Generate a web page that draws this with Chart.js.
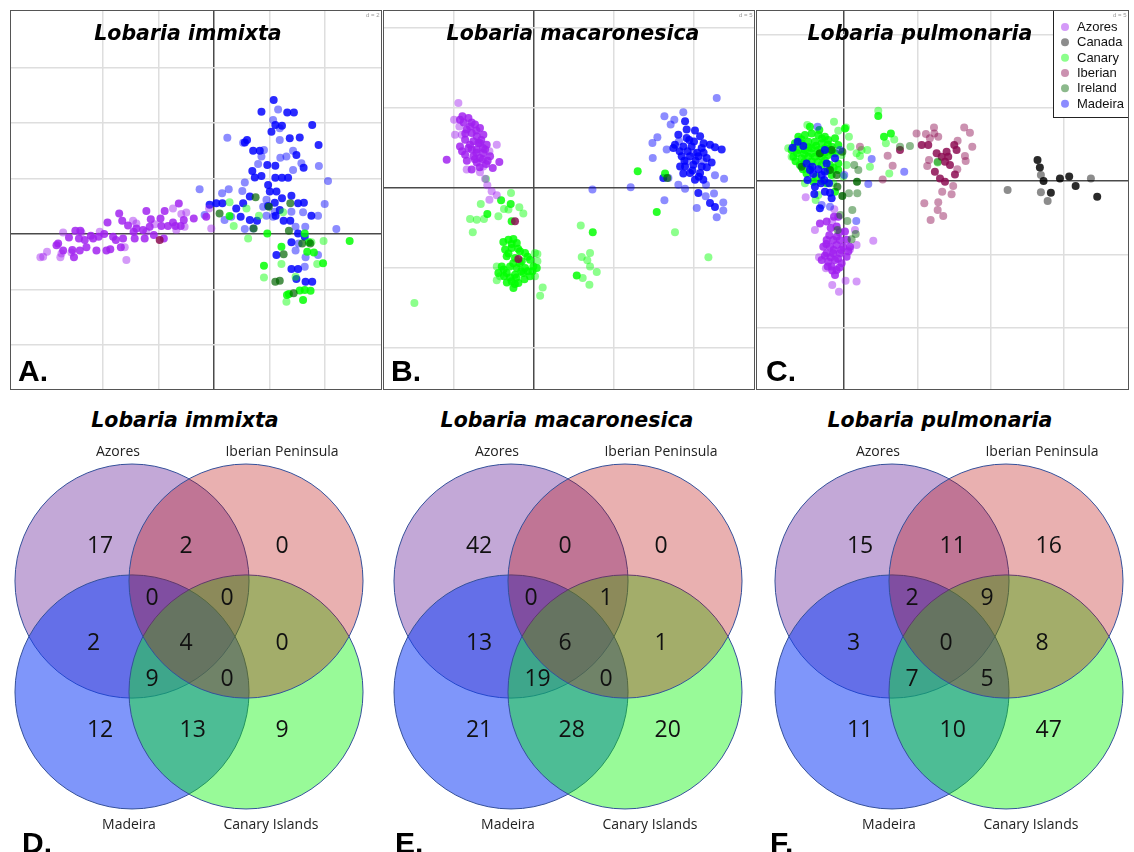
<!DOCTYPE html>
<html>
<head>
<meta charset="utf-8">
<script src="https://cdn.jsdelivr.net/npm/chart.js@4.4.1/dist/chart.umd.min.js"></script>
<style>
body{margin:0;background:#fff;width:1134px;height:852px;overflow:hidden;position:relative}
.frame{position:absolute;border:1px solid #555;box-sizing:border-box}
.frame canvas{display:block}
.title{position:absolute;font:bold italic 20.5px "DejaVu Sans";line-height:21px;white-space:nowrap;transform:translateX(-50%);color:#000;z-index:2}
.letter{position:absolute;font:bold 30px "Liberation Sans";line-height:30px;color:#000;z-index:2}
.dval{position:absolute;font:6px "Liberation Sans";color:#999;z-index:3}
.venn{position:absolute}
</style>
</head>
<body>

<div class="frame" style="left:10px;top:10px;width:372px;height:380px"><canvas id="pA" width="370" height="378"></canvas></div>
<div class="frame" style="left:383px;top:10px;width:372px;height:380px"><canvas id="pB" width="370" height="378"></canvas></div>
<div class="frame" style="left:756px;top:10px;width:373px;height:380px"><canvas id="pC" width="371" height="378"></canvas></div>

<div class="title" style="left:188px;top:23px">Lobaria immixta</div>
<div class="title" style="left:573px;top:23px">Lobaria macaronesica</div>
<div class="title" style="left:920px;top:23px">Lobaria pulmonaria</div>
<div class="dval" style="left:366px;top:12px">d = 2</div>
<div class="dval" style="left:739px;top:12px">d = 5</div>
<div class="dval" style="left:1113px;top:12px">d = 5</div>
<div class="letter" style="left:18px;top:356px">A.</div>
<div class="letter" style="left:391px;top:356px">B.</div>
<div class="letter" style="left:766px;top:356px">C.</div>

<canvas class="venn" id="vD" width="378" height="393" style="left:0;top:440px"></canvas>
<canvas class="venn" id="vE" width="378" height="393" style="left:379px;top:440px"></canvas>
<canvas class="venn" id="vF" width="378" height="393" style="left:760px;top:440px"></canvas>

<div class="title" style="left:185px;top:410px">Lobaria immixta</div>
<div class="title" style="left:567px;top:410px">Lobaria macaronesica</div>
<div class="title" style="left:940px;top:410px">Lobaria pulmonaria</div>
<div class="letter" style="left:22px;top:828px">D.</div>
<div class="letter" style="left:395px;top:828px">E.</div>
<div class="letter" style="left:770px;top:828px">F.</div>

<script>
// discriminant scores [axis1, axis2, stacked samples]
const immixtaAzores = [
 [-1.27,1.10,3],[-1.78,0.83,3],[-2.44,0.83,3],[-3.42,0.74,3],[-3.84,0.41,3],[-3.31,0.48,3],[-3.10,0.31,3],[-2.80,0.20,3],
 [-2.28,0.53,3],[-1.93,0.56,3],[-1.90,0.29,3],[-1.66,0.29,3],[-1.39,0.29,3],[-1.20,0.29,3],[-0.73,0.56,3],[-0.28,0.62,3],
 [-5.00,0.12,3],[-4.82,0.12,3],[-4.44,-0.06,3],[-4.16,-0.10,3],[-3.96,0,3],[-3.64,-0.10,3],[-3.28,-0.16,3],[-2.86,-0.16,3],
 [-2.50,-0.16,3],[-2.17,-0.04,3],[-1.81,-0.16,3],[-5.23,-0.13,3],[-5.62,-0.34,3],[-5.68,-0.41,3],[-5.44,-0.60,3],[-5.11,-0.58,3],
 [-4.84,-0.60,3],[-4.60,-0.48,3],[-4.24,-0.60,3],[-3.88,-0.60,3],[-3.74,-0.55,3],[-3.36,-0.48,3],[-5.05,-0.84,3],[-4.87,-0.16,3],
 [-4.66,-0.22,3],[-4.36,-0.16,3],[-3.54,-0.22,3],[-2.90,0.08,3],[-2.56,0.14,3],[-2.32,0.26,3],[-1.48,0.41,3],[-1.09,0.50,3],
 [-6.26,-0.84,1],[-6.02,-0.64,1],[-5.54,-0.84,1],[-5.50,-0.70,1],[-5.44,0.05,1],[-4.78,0.05,1],[-4.12,0.08,1],[-3.16,-0.94,1],
 [-3.22,-0.48,1],[-1.48,0.92,1],[-1.18,0.72,1],[-1.00,0.77,1],[-0.18,0.92,1],[-0.10,0.20,1],[-2.44,0.08,1],[-2.80,0.38,1],
 [-2.92,0.48,1],[-2.14,0.35,1],[-1.36,0.14,1],[-1.06,0.26,1],[-5.14,-0.67,1],[-6.16,-0.82,1]
];
const immixtaIberian = [[-1.96,-0.22,3]];
const immixtaMadeira = [
 [2.15,4.83,3],[1.71,4.41,3],[2.64,4.38,3],[2.88,4.38,3],[2.21,3.93,3],[2.45,3.90,3],[3.54,3.93,3],[2.07,3.69,3],
 [2.73,3.45,3],[3.09,3.48,3],[1.19,3.39,3],[1.11,3.30,3],[3.77,3.21,3],[1.41,3.00,3],[1.65,3.00,3],[2.97,2.85,3],
 [1.92,2.49,3],[2.21,2.46,3],[3.23,2.39,3],[1.38,2.27,3],[1.47,2.04,3],[1.71,2.09,3],[2.21,2.03,3],[2.45,2.03,3],
 [2.67,2.03,3],[1.95,1.77,3],[2.01,1.53,3],[2.25,1.53,3],[2.79,1.38,3],[2.45,1.29,3],[2.19,1.13,3],[1.95,1.01,3],
 [3.03,1.11,3],[3.24,1.13,3],[0.08,1.11,3],[-0.16,1.05,3],[0.30,1.11,3],[0.80,0.92,3],[0.96,0.62,3],[1.29,0.50,3],
 [1.55,0.48,3],[2.51,0.48,3],[2.75,0.48,3],[2.22,0.66,3],[3.51,0.66,3],[3.03,0.02,3],[2.79,-0.30,3],[2.25,-0.76,3],
 [2.79,-1.26,3],[3.03,-1.26,3],[2.97,-1.62,3],[3.30,-1.72,3],[3.54,-1.72,3],[3.27,-0.10,3],[2.37,0.86,3],[1.29,1.35,3],[1.05,1.11,3],
 [2.31,4.49,1],[2.13,4.11,1],[2.37,3.81,1],[0.48,3.47,1],[1.05,3.29,1],[1.80,3.03,1],[2.37,3.39,1],[2.39,2.75,1],
 [2.61,2.79,1],[2.85,3.00,1],[2.85,2.31,1],[3.15,2.55,1],[1.59,2.52,1],[1.71,2.79,1],[3.78,2.45,1],[4.11,1.91,1],
 [1.11,1.86,1],[-0.52,1.61,1],[0.29,1.47,1],[0.53,1.61,1],[1.02,1.55,1],[1.89,1.23,1],[3.99,1.08,1],[3.75,0.66,1],
 [3.21,0.78,1],[2.94,0.26,1],[3.29,0.26,1],[4.41,0.18,1],[1.11,0.18,1],[1.41,0.20,1],[0.38,0.50,1],[-0.34,0.68,1],
 [0.62,0.62,1],[1.89,0.66,1],[2.13,0.62,1],[2.79,0.80,1],[3.05,-0.34,1],[3.75,-0.76,1],[3.30,-0.84,1],[2.94,-0.60,1],
 [3.27,-1.18,1],[2.19,0.80,1],[1.77,0.98,1]
];
const immixtaCanary = [
 [0.56,0.65,3],[1.92,0.02,3],[3.27,0.02,3],[2.43,-0.46,3],[3.36,-0.64,3],[3.60,-0.67,3],[3.93,-1.06,3],[4.89,-0.25,3],
 [1.80,-1.15,3],[3.27,-2.02,3],[3.09,-2.04,3],[3.48,-2.05,3],[3.21,-2.38,3],[2.70,-2.16,3],[2.63,-2.20,3],[3.42,-0.30,3],
 [0.71,0.29,1],[1.23,-0.16,1],[1.62,0.66,1],[2.49,0.78,1],[2.43,-1.08,1],[3.72,-1.08,1],[3.95,-0.25,1],[1.80,-1.57,1],
 [2.61,-2.44,1],[2.94,-1.54,1],[3.51,-0.30,1],[0.56,1.14,1],[1.17,0.92,1]
];
const immixtaIreland = [
 [0.20,0.74,2],[1.50,1.32,2],[1.98,0.98,2],[2.75,1.11,2],[1.43,0.20,2],[2.70,0.12,2],[3.18,-0.34,2],[2.51,-0.73,2],
 [2.21,-1.72,2],[2.37,-1.69,2],[2.87,-2.14,2],[3.47,-0.34,2]
];

const macaronesicaAzores = [
 [-4.48,4.48,3],[-4.10,4.38,3],[-3.69,3.96,3],[-3.38,3.75,3],[-4.21,3.65,3],[-3.90,3.44,3],[-3.58,3.23,3],[-3.17,3.33,3],
 [-4.31,3.02,3],[-3.79,2.92,3],[-3.38,2.81,3],[-2.96,2.71,3],[-4.63,2.60,3],[-4.10,2.50,3],[-3.58,2.40,3],[-3.17,2.19,3],
 [-4.31,2.08,3],[-3.79,1.98,3],[-3.38,1.88,3],[-2.75,1.98,3],[-3.58,1.60,3],[-3.00,1.50,3],[-2.58,1.25,3],[-2.17,1.63,3],
 [-5.46,1.77,3],[-3.90,1.15,3],[-4.63,4.27,3],[-4.00,3.85,3],[-3.48,2.81,3],[-3.06,2.40,3],
 [-4.40,4.10,3],[-3.90,4.10,3],[-4.30,3.40,3],[-3.60,3.60,3],[-3.30,3.00,3],[-4.00,2.70,3],[-3.60,2.20,3],[-3.90,2.40,3],
 [-3.20,2.50,3],[-4.50,2.30,3],[-3.70,1.80,3],[-3.20,1.80,3],[-2.90,1.70,3],[-4.20,1.70,3],[-3.40,1.30,3],
 [-4.73,5.31,1],[-5.00,4.27,1],[-4.94,3.33,1],[-2.33,2.71,1],[-2.79,2.29,1],[-3.38,0.98,1],[-4.21,1.15,1],[-3.06,0.58,1],
 [-2.92,0.17,1],[-2.65,-0.21,1],[-2.33,-0.46,1],[-2.79,-0.73,1],[-4.67,3.85,1],[-3.17,1.35,1],[-4.52,3.33,1]
];
const macaronesicaCanary = [
 [-1.92,-3.38,3],[-1.60,-3.23,3],[-1.29,-3.19,3],[-1.08,-3.44,3],[-1.81,-3.85,3],[-1.40,-3.75,3],[-0.88,-3.96,3],[-0.56,-4.06,3],
 [-1.71,-4.27,3],[-1.19,-4.38,3],[-0.77,-4.58,3],[-0.25,-4.48,3],[-2.02,-4.90,3],[-1.50,-4.90,3],[-1.08,-5.00,3],[-0.56,-5.00,3],
 [-0.04,-4.90,3],[-2.23,-5.31,3],[-1.71,-5.31,3],[-1.19,-5.42,3],[-0.67,-5.31,3],[-0.25,-5.52,3],[-1.40,-5.83,3],[-0.98,-5.94,3],
 [-1.88,-5.52,3],[-1.29,-6.25,3],[0.17,-5.00,3],[-2.06,-0.77,3],[-1.46,-1.00,3],[-2.92,-1.63,3],[-1.40,-2.08,3],[3.67,-2.77,3],
 [7.67,-1.50,3],[6.48,1.04,3],[8.19,0.90,3],[2.67,-5.46,3],
 [-1.40,-3.50,3],[-1.00,-3.80,3],[-1.60,-4.10,3],[-0.40,-4.30,3],[-1.30,-4.70,3],[-0.90,-4.70,3],[-1.90,-5.10,3],[-0.80,-5.20,3],
 [-0.40,-5.20,3],[-1.50,-5.60,3],[-1.10,-5.60,3],[-0.60,-5.70,3],[-1.70,-5.90,3],[-1.20,-6.00,3],[-0.10,-5.20,3],
 [-1.44,-0.31,1],[-3.33,-1.00,1],[-4.00,-1.94,1],[-3.58,-1.98,1],[-3.13,-1.94,1],[-3.83,-2.77,1],[-2.23,-1.77,1],[-1.88,-1.31,1],
 [-0.92,-1.21,1],[-0.67,-1.60,1],[-1.60,-1.35,1],[0.21,-4.13,1],[0.21,-4.58,1],[0.54,-6.21,1],[0.38,-6.73,1],[-2.33,-5.77,1],
 [-7.48,-7.19,1],[2.92,-2.35,1],[3.50,-4.06,1],[2.98,-4.31,1],[3.33,-4.52,1],[3.50,-4.90,1],[3.92,-5.25,1],[3.04,-5.63,1],
 [3.46,-6.04,1],[8.81,-2.77,1],[10.90,-4.33,1],[-3.00,0.56,1],[0.06,-5.52,1],[-2.33,-4.90,1],[-2.13,-5.52,1],[0.06,-4.06,1]
];
const macaronesicaIberian = [[-1.19,-2.08,3],[-0.98,-4.44,3]];
const macaronesicaIreland = [[8.33,0.63,2]];
const macaronesicaMadeira = [
 [9.44,4.17,3],[10.06,3.60,3],[9.02,3.33,3],[9.54,3.13,3],[10.38,3.23,3],[8.81,2.71,3],[9.33,2.60,3],[9.85,2.60,3],
 [10.48,2.50,3],[11.00,2.71,3],[9.23,1.98,3],[9.75,1.98,3],[10.27,1.98,3],[10.79,1.88,3],[9.44,1.35,3],[9.96,1.46,3],
 [10.48,1.35,3],[11.10,1.60,3],[9.13,1.35,3],[9.75,0.94,3],[10.38,0.94,3],[9.33,0.90,3],[10.06,0.52,3],[10.58,0.52,3],
 [8.08,0.63,3],[10.27,-0.31,3],[11.00,-0.94,3],[11.31,-1.19,3],[11.73,2.40,3],[11.31,2.54,3],[8.71,2.50,3],[9.54,3.65,3],
 [9.60,2.30,3],[10.20,2.20,3],[10.60,2.20,3],[9.40,1.70,3],[10.10,1.70,3],[10.80,1.30,3],[9.90,1.10,3],[10.30,0.70,3],
 [9.70,3.00,3],[10.00,2.90,3],[10.60,2.80,3],[9.10,2.30,3],
 [11.42,5.63,1],[9.33,4.73,1],[8.15,4.48,1],[8.77,4.27,1],[8.54,3.96,1],[7.71,3.17,1],[7.40,2.81,1],[8.29,2.40,1],
 [7.42,1.88,1],[11.31,0.79,1],[11.88,0.58,1],[9.02,0.21,1],[9.44,-0.04,1],[10.75,0.21,1],[11.25,-0.35,1],[10.73,-0.52,1],
 [11.83,-0.90,1],[10.17,-1.25,1],[11.83,-1.40,1],[11.42,-1.83,1],[8.15,-0.77,1],[6.04,0.04,1],[3.65,-0.10,1],[8.40,0.63,1],
 [9.96,2.19,1],[10.58,1.67,1],[9.56,1.67,1],[9.06,2.92,1]
];

const pulmonariaAzores = [
 [-1.18,-2.77,3],[-0.50,-3.11,3],[0.07,-3.45,3],[-1.18,-4.02,3],[-0.73,-4.02,3],[-0.27,-4.02,3],[-1.41,-4.48,3],[-0.95,-4.48,3],
 [-0.50,-4.36,3],[-0.05,-4.48,3],[0.41,-4.48,3],[-1.18,-4.93,3],[-0.73,-4.93,3],[-0.27,-4.93,3],[0.18,-5.16,3],[-1.52,-5.39,3],
 [-1.07,-5.50,3],[-0.61,-5.39,3],[-0.16,-5.61,3],[-0.84,-5.84,3],[-0.50,-6.07,3],[-0.61,-6.41,3],[-1.11,-5.84,3],[-0.39,-2.43,3],
 [-0.68,-2.43,3],[-1.64,-2.89,3],
 [-0.90,-3.20,3],[-0.30,-3.50,3],[-1.00,-3.70,3],[-0.50,-3.80,3],[0.20,-4.00,3],[-1.20,-4.30,3],[-0.70,-4.70,3],[-0.20,-4.70,3],
 [0.30,-4.80,3],[-1.30,-5.10,3],[-0.90,-5.20,3],[-0.40,-5.30,3],[-0.80,-6.10,3],[-0.30,-5.90,3],
 [-2.61,-1.11,1],[-0.66,-1.93,1],[-0.80,-2.73,1],[0.86,-4.36,1],[2.00,-4.07,1],[-1.70,-5.20,1],[-1.23,-5.95,1],[-0.80,-7.09,1],
 [-0.34,-7.55,1],[0.11,-6.80,1],[0.86,-6.86,1],[0.41,-4.66,1],[-1.98,-3.34,1],[0.75,-3.34,1]
];
const pulmonariaCanada = [
 [13.20,1.43,3],[13.36,0.93,3],[13.61,0,3],[14.73,0.18,3],[15.36,0.30,3],[15.80,-0.34,3],[14.11,-0.80,3],[17.27,-1.07,3],
 [13.43,0.41,1],[13.43,-0.77,1],[13.89,-1.36,1],[16.84,0.18,1],[11.16,-0.61,1]
];
const pulmonariaCanary = [
 [-3.11,3.02,3],[-2.66,3.14,3],[-2.20,3.25,3],[-1.75,3.14,3],[-1.30,3.02,3],[-3.34,2.57,3],[-2.89,2.57,3],[-2.43,2.68,3],
 [-1.98,2.68,3],[-1.52,2.57,3],[-1.07,2.80,3],[-0.61,2.91,3],[-3.57,2.11,3],[-3.11,2.11,3],[-2.66,2.11,3],[-2.20,2.23,3],
 [-1.75,2.11,3],[-1.30,2.23,3],[-0.84,2.34,3],[-0.39,2.45,3],[-3.45,1.66,3],[-2.89,1.55,3],[-2.43,1.66,3],[-1.98,1.66,3],
 [-1.52,1.66,3],[-1.07,1.77,3],[-0.61,1.89,3],[-3.00,1.09,3],[-1.52,1.09,3],[-0.95,1.09,3],[-0.39,1.20,3],[-2.55,0.52,3],
 [-0.84,0.41,3],[-0.39,0.75,3],[-2.09,-0.05,3],[-1.18,-0.16,3],[-0.61,-0.73,3],[2.34,4.43,3],[2.73,3.02,3],[3.20,3.25,3],
 [-1.68,3.48,3],[0.07,3.59,3],[-2.32,3.70,3],
 [-2.90,2.85,3],[-2.40,2.30,3],[-1.90,2.40,3],[-1.50,2.90,3],[-1.10,2.50,3],[-3.20,1.90,3],[-2.70,1.85,3],[-2.20,1.90,3],
 [-1.70,1.85,3],[-1.30,1.95,3],[-0.80,2.00,3],[-3.30,1.35,3],[-2.70,1.30,3],[-2.20,1.35,3],[-1.80,1.30,3],[-1.30,1.40,3],
 [-2.80,0.80,3],[-2.30,0.90,3],[-1.10,0.70,3],[-0.70,0.90,3],[-1.90,0.30,3],[-1.50,0.00,3],
 [-2.50,3.82,1],[-0.68,4.05,1],[-0.39,3.43,1],[0.14,3.66,1],[0.34,3.02,1],[-3.80,2.23,1],[-3.57,1.66,1],[1.20,2.11,1],
 [1.59,2.11,1],[1.09,1.70,1],[1.77,0.98,1],[0.45,2.34,1],[0.86,1.89,1],[-0.16,1.77,1],[0.18,1.09,1],[-0.05,0.30,1],
 [-0.73,-0.16,1],[-2.66,-0.16,1],[-1.93,-1.30,1],[2.34,4.80,1],[2.86,2.57,1],[3.43,2.84,1],[3.09,0.52,1],[6.39,1.27,1],[-1.75,-0.95,1]
];
const pulmonariaIberian = [
 [3.82,2.11,3],[7.00,2.00,3],[6.66,1.66,3],[7.11,1.66,3],[6.32,1.89,3],[7.52,2.45,3],[6.89,1.32,3],[7.23,1.09,3],
 [7.57,0.45,3],[6.55,0.18,3],[6.89,-0.05,3],[6.20,0.64,3],[5.75,2.45,3],[5.30,2.45,3],[7.68,2.11,3],
 [4.95,3.25,1],[5.59,3.20,1],[6.14,3.66,1],[6.16,3.25,1],[6.43,3.02,1],[5.86,2.91,1],[7.75,2.75,1],[8.20,3.66,1],
 [8.59,3.30,1],[8.75,2.34,1],[8.25,1.70,1],[8.30,1.36,1],[7.73,0.80,1],[5.80,1.43,1],[5.68,1.02,1],[7.45,-0.34,1],
 [7.34,-0.91,1],[6.70,-0.73,1],[6.43,-1.45,1],[6.39,-1.98,1],[5.48,-1.52,1],[6.77,-2.39,1],[5.91,-2.66,1],[2.64,0.11,1],
 [3.32,1.05,1],[2.98,1.73,1],[1.09,2.34,1]
];
const pulmonariaIreland = [
 [-0.45,-0.39,2],[-0.11,-1.02,3],[0.89,-0.05,3],[0.70,1.09,1],[0.98,0.75,1],[0.34,-0.84,1],[0.91,-0.84,1],[0.57,-1.98,1],
 [-0.25,-2.32,1],[0.23,-2.73,1],[0.80,-3.61,1],[0.52,-3.98,1],[-0.95,0.75,2],[-0.50,0.41,2],[-0.84,2.11,2],[-1.64,1.89,2],
 [-2.89,0.98,2],[3.82,2.34,1],[4.50,2.39,1],[6.39,1.32,1],[-0.11,2.00,2],[-0.43,-3.34,1]
];
const pulmonariaMadeira = [
 [-2.77,2.39,3],[-2.55,1.20,3],[-2.16,0.98,3],[-2.32,0.75,3],[-1.75,0.80,3],[-2.09,0.48,3],[-1.52,0.41,3],[-1.30,0.64,3],
 [-1.34,0.07,3],[-1.02,-0.16,3],[-1.57,-0.16,3],[-1.98,-0.39,3],[-1.30,-0.73,3],[-0.95,-0.80,3],[-0.84,-1.18,3],[-1.64,-1.86,3],
 [-2.02,-0.89,3],[-2.48,0.07,3],[-1.18,1.20,3],[-0.61,1.55,3],[-1.30,2.11,3],[-3.50,2.27,3],[-3.16,2.68,3],
 [1.89,1.50,1],[4.11,0.64,1],[1.66,-0.20,1],[0.84,-2.73,1],[0.02,0.41,1],[-0.95,-1.75,1],[-1.52,-1.64,1],[-1.80,3.70,1],[-0.27,2.11,1]
];

const vennSets = ["Azores","Iberian Peninsula","Madeira","Canary Islands"];
// regions: A, AI, I, AIM, AIC, AM, AIMC, IC, AMC, IMC, M, MC, C
const immixtaCounts = [17,2,0,0,0,2,4,0,9,0,12,13,9];
const macaronesicaCounts = [42,0,0,0,1,13,6,1,19,0,21,28,20];
const pulmonariaCounts = [15,11,16,2,9,3,0,8,7,5,11,10,47];

const popColours = {
  Azores:[160,32,240], Canada:[0,0,0], Canary:[0,255,0],
  Iberian:[139,10,80], Ireland:[0,100,0], Madeira:[0,0,255]
};

function rgba(c,a){ return `rgba(${c[0]},${c[1]},${c[2]},${a})`; }
function stackAlpha(n){ return 1-Math.pow(0.55,n); }

function popDataset(name, rows, order){
  const c = popColours[name];
  return {
    label:name,
    data:rows.map(r=>({x:r[0],y:r[1],n:r[2]})),
    order:order,
    pointRadius:4,
    pointBorderWidth:0,
    pointBorderColor:'rgba(0,0,0,0)',
    pointBackgroundColor:ctx=>rgba(c, stackAlpha(ctx.raw ? ctx.raw.n : 1)),
    legendColour:rgba(c,0.45)
  };
}

function axisOpts(min,max,step){
  return {
    type:'linear', min:min, max:max,
    ticks:{display:false, stepSize:step},
    afterBuildTicks:s=>{
      s.ticks = s.ticks.filter(t=>Math.abs(t.value/step-Math.round(t.value/step))<1e-6);
    },
    grid:{
      drawTicks:false,
      color:c=>(c.tick && c.tick.value===0) ? '#4a4a4a' : '#dedede',
      lineWidth:1.5
    },
    border:{display:false}
  };
}

/* legend box in the corner of panel C */
const boxLegend = {
  id:'boxLegend',
  afterDatasetsDraw(chart, args, opts){
    if(!opts.show) return;
    const ctx = chart.ctx;
    const right = chart.chartArea.right;
    const x0 = right-75;
    ctx.save();
    ctx.fillStyle = '#fff';
    ctx.fillRect(x0, 0, 75, 107);
    ctx.strokeStyle = '#222';
    ctx.lineWidth = 1;
    ctx.strokeRect(x0+0.5, -1, 75, 107.5);
    ctx.font = '13px "Liberation Sans"';
    ctx.textBaseline = 'middle';
    chart.data.datasets.forEach((ds,i)=>{
      const y = 16 + i*15.33;
      ctx.fillStyle = ds.legendColour;
      ctx.beginPath(); ctx.arc(x0+12, y, 4, 0, Math.PI*2); ctx.fill();
      ctx.fillStyle = '#111';
      ctx.fillText(ds.label, x0+24, y+0.5);
    });
    ctx.restore();
  }
};

function makeScatter(id, step, xr, yr, datasets, withLegend){
  new Chart(document.getElementById(id), {
    type:'scatter',
    data:{datasets:datasets},
    options:{
      responsive:false, animation:false, devicePixelRatio:1, events:[],
      layout:{padding:0, autoPadding:false},
      plugins:{legend:{display:false}, tooltip:{enabled:false}, boxLegend:{show:withLegend}},
      scales:{x:axisOpts(xr[0],xr[1],step), y:axisOpts(yr[0],yr[1],step)}
    },
    plugins:[boxLegend]
  });
}

makeScatter('pA', 2, [-7.32,6.02], [-5.59,8.04], [
  popDataset('Azores', immixtaAzores, 1),
  popDataset('Canary', immixtaCanary, 3),
  popDataset('Iberian', immixtaIberian, 0),
  popDataset('Ireland', immixtaIreland, 2),
  popDataset('Madeira', immixtaMadeira, 4)
], false);

makeScatter('pB', 5, [-9.38,13.75], [-12.56,11.06], [
  popDataset('Azores', macaronesicaAzores, 2),
  popDataset('Canary', macaronesicaCanary, 3),
  popDataset('Iberian', macaronesicaIberian, 0),
  popDataset('Ireland', macaronesicaIreland, 1),
  popDataset('Madeira', macaronesicaMadeira, 4)
], false);

makeScatter('pC', 5, [-5.93,19.37], [-14.19,11.6], [
  popDataset('Azores', pulmonariaAzores, 4),
  popDataset('Canada', pulmonariaCanada, 2),
  popDataset('Canary', pulmonariaCanary, 5),
  popDataset('Iberian', pulmonariaIberian, 3),
  popDataset('Ireland', pulmonariaIreland, 1),
  popDataset('Madeira', pulmonariaMadeira, 0)
], true);

/* Venn diagrams: circle radius = 1 unit */
const vennCentres = [[-0.487,0.474],[0.487,0.474],[-0.487,-0.474],[0.487,-0.474]];
const vennFill = ['rgba(112,48,160,0.42)','rgba(186,8,8,0.32)','rgba(22,64,246,0.55)','rgba(10,243,10,0.42)'];
const vennDrawOrder = [3,0,2,1];
const regionAnchors = [
  [-0.872,0.782],[-0.081,0.782],[0.739,0.782],
  [-0.372,0.34],[0.269,0.34],
  [-0.872,-0.044],[-0.081,-0.044],[0.739,-0.044],
  [-0.372,-0.352],[0.269,-0.352],
  [-0.872,-0.793],[-0.081,-0.793],[0.739,-0.793]
];
const labelAnchors = [[-0.607,1.585],[0.795,1.585],[-0.513,-1.603],[0.70,-1.603]];

const vennText = {
  id:'vennText',
  afterDatasetsDraw(chart, args, opts){
    const ctx = chart.ctx, xs = chart.scales.x, ys = chart.scales.y;
    ctx.save();
    ctx.fillStyle = '#111';
    ctx.font = '23px "Open Sans"';
    ctx.textAlign = 'left';
    ctx.textBaseline = 'alphabetic';
    opts.counts.forEach((v,i)=>{
      const a = regionAnchors[i];
      ctx.fillText(String(v), xs.getPixelForValue(a[0]), ys.getPixelForValue(a[1])+8.2);
    });
    ctx.font = '14px "Open Sans"';
    ctx.textAlign = 'center';
    ctx.fillStyle = '#222';
    vennSets.forEach((s,i)=>{
      const a = labelAnchors[i];
      ctx.fillText(s, xs.getPixelForValue(a[0]), ys.getPixelForValue(a[1])+5);
    });
    ctx.restore();
  }
};

function makeVenn(id, counts){
  const datasets = vennSets.map((name,i)=>({
    label:name,
    data:[{x:vennCentres[i][0], y:vennCentres[i][1], r:1}],
    order:vennDrawOrder[i],
    pointBackgroundColor:vennFill[i],
    pointBorderColor:'#34509a',
    pointBorderWidth:1,
    pointRadius:ctx=>{
      if(!ctx.raw) return 0;
      const s = ctx.chart.scales.x;
      return Math.abs(s.getPixelForValue(ctx.raw.r)-s.getPixelForValue(0));
    }
  }));
  new Chart(document.getElementById(id), {
    type:'scatter',
    data:{datasets:datasets},
    options:{
      responsive:false, animation:false, devicePixelRatio:1, events:[],
      layout:{padding:0, autoPadding:false},
      plugins:{legend:{display:false}, tooltip:{enabled:false}, vennText:{counts:counts}},
      scales:{
        x:{type:'linear', display:false, min:-1.615, max:1.615},
        y:{type:'linear', display:false, min:-1.68, max:1.68}
      }
    },
    plugins:[vennText]
  });
}

makeVenn('vD', immixtaCounts);
makeVenn('vE', macaronesicaCounts);
makeVenn('vF', pulmonariaCounts);
</script>
</body>
</html>
